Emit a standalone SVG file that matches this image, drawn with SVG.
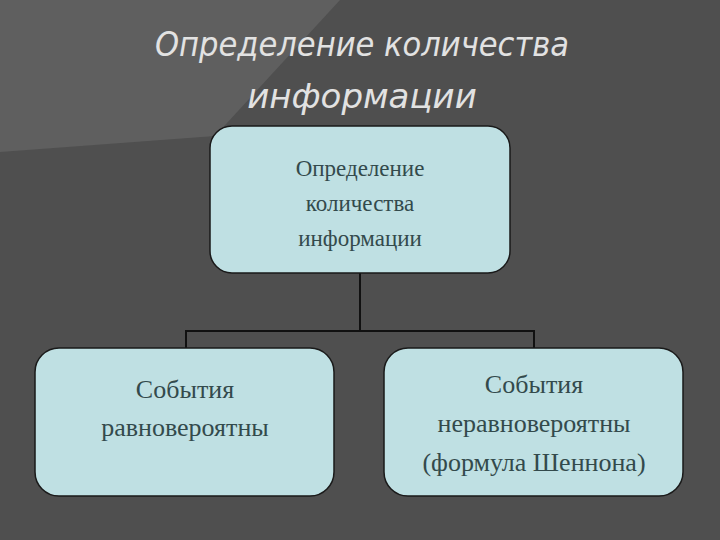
<svg xmlns="http://www.w3.org/2000/svg" width="720" height="540" viewBox="0 0 720 540">
<style>
.box{fill:#bfe0e3;stroke:#1a1a1a;stroke-width:1.5}
.t{font-family:"Liberation Serif",serif;fill:#334a4c;text-anchor:middle}
.title{font-family:"DejaVu Sans",sans-serif;font-style:italic;fill:#e2e2e2;text-anchor:middle;font-size:34px}
</style>
<rect width="720" height="540" fill="#4f4f4f"/>
<polygon points="0,0 340,0 215,136 0,152" fill="#5f5f5f"/>
<text class="title" x="362" y="56" font-stretch="condensed">Определение количества</text>
<text class="title" x="362" y="108">информации</text>
<g id="connectors" stroke="#111" stroke-width="2" fill="none">
<path d="M360,273V331M186,348V331H534V348"/>
</g>
<g id="root">
<rect class="box" x="210" y="126" width="300" height="147" rx="22"/>
<text class="t" font-size="23"><tspan x="360" y="176">Определение</tspan><tspan x="360" y="211">количества</tspan><tspan x="360" y="246">информации</tspan></text>
</g>
<g id="left">
<rect class="box" x="35" y="348" width="299" height="148" rx="24"/>
<text class="t" font-size="26"><tspan x="185" y="398">События</tspan><tspan x="185" y="436">равновероятны</tspan></text>
</g>
<g id="right">
<rect class="box" x="384" y="348" width="299" height="148" rx="24"/>
<text class="t" font-size="26"><tspan x="534" y="393">События</tspan><tspan x="534" y="432">неравновероятны</tspan><tspan x="534" y="471">(формула Шеннона)</tspan></text>
</g>
</svg>
